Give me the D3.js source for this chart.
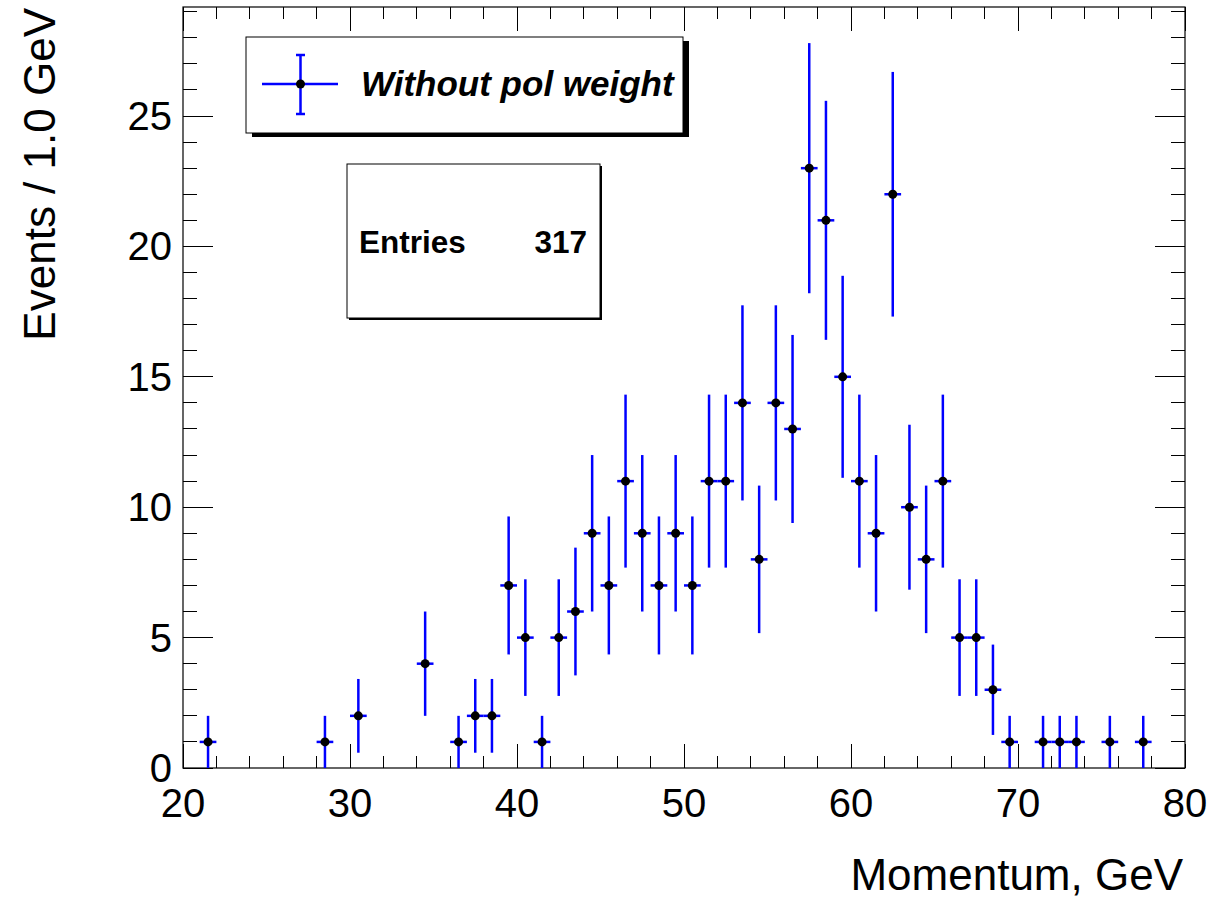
<!DOCTYPE html>
<html><head><meta charset="utf-8">
<script src="https://cdn.jsdelivr.net/npm/d3@7"></script>
<style>body{margin:0;background:#fff}svg{display:block;font-family:"Liberation Sans",Arial,sans-serif}</style>
</head><body>
<script>
const binCenters = [21.5,28.5,30.5,34.5,36.5,37.5,38.5,39.5,40.5,41.5,42.5,43.5,44.5,45.5,46.5,47.5,48.5,49.5,50.5,51.5,52.5,53.5,54.5,55.5,56.5,57.5,58.5,59.5,60.5,61.5,62.5,63.5,64.5,65.5,66.5,67.5,68.5,69.5,71.5,72.5,73.5,75.5,77.5];
const counts = [1,1,2,4,1,2,2,7,5,1,5,6,9,7,11,9,7,9,7,11,11,14,8,14,13,23,21,15,11,9,22,10,8,11,5,5,3,1,1,1,1,1,1];
const binWidth = 1.0;
const xTicks = [20,30,40,50,60,70,80];
const yTicks = [0,5,10,15,20,25];
const xDomain = [20,80];
const yDomain = [0,29.18];
const legendLabel = "Without pol weight";
const statsLabel = "Entries";
const statsValue = "317";
const xTitle = "Momentum, GeV";
const yTitle = "Events / 1.0 GeV";

const W=1227,H=900;
const L=183,R=1185,T=7,B=768;
const svg=d3.select("body").append("svg").attr("width",W).attr("height",H);
const x=d3.scaleLinear().domain(xDomain).range([L,R]);
const y=d3.scaleLinear().domain(yDomain).range([B,T]);

// ticks
const g=svg.append("g").attr("stroke","#000").attr("stroke-width",1).attr("shape-rendering","crispEdges");
const xMinor=d3.range(xDomain[0],xDomain[1]+0.001,2);
xMinor.forEach(v=>{
  const major = v%10===0;
  const len = major?24:12;
  g.append("line").attr("x1",x(v)).attr("x2",x(v)).attr("y1",B).attr("y2",B-len);
  g.append("line").attr("x1",x(v)).attr("x2",x(v)).attr("y1",T).attr("y2",T+len);
});
const yMinor=d3.range(0,29.001,1);
yMinor.forEach(v=>{
  const major = v%5===0;
  const len = major?30:14;
  g.append("line").attr("y1",y(v)).attr("y2",y(v)).attr("x1",L).attr("x2",L+len);
  g.append("line").attr("y1",y(v)).attr("y2",y(v)).attr("x1",R).attr("x2",R-len);
});
svg.append("rect").attr("x",L).attr("y",T).attr("width",R-L).attr("height",B-T)
  .attr("fill","none").attr("stroke","#000").attr("stroke-width",1.2);

// tick labels
svg.append("g").selectAll("text").data(xTicks).join("text")
  .attr("x",d=>x(d)).attr("y",817).attr("text-anchor","middle")
  .attr("font-size",40).text(d=>d);
svg.append("g").selectAll("text").data(yTicks).join("text")
  .attr("x",172).attr("y",d=>y(d)+14).attr("text-anchor","end")
  .attr("font-size",40).text(d=>d);

// titles
svg.append("text").attr("x",1183).attr("y",890).attr("text-anchor","end")
  .attr("font-size",44).text(xTitle);
svg.append("text").attr("transform","translate(55,8) rotate(-90)").attr("text-anchor","end")
  .attr("font-size",44).text(yTitle);

// data
const data=binCenters.map((c,i)=>({c,n:counts[i],e:Math.sqrt(counts[i])}));
const dg=svg.append("g");
dg.selectAll("line.v").data(data).join("line").attr("class","v")
  .attr("x1",d=>x(d.c)).attr("x2",d=>x(d.c))
  .attr("y1",d=>y(Math.max(0,d.n-d.e))).attr("y2",d=>y(d.n+d.e))
  .attr("stroke","#0000ff").attr("stroke-width",2.5);
dg.selectAll("line.h").data(data).join("line").attr("class","h")
  .attr("x1",d=>x(d.c-binWidth/2)).attr("x2",d=>x(d.c+binWidth/2))
  .attr("y1",d=>y(d.n)).attr("y2",d=>y(d.n))
  .attr("stroke","#0000ff").attr("stroke-width",2.5);
dg.selectAll("circle").data(data).join("circle")
  .attr("cx",d=>x(d.c)).attr("cy",d=>y(d.n)).attr("r",4.5).attr("fill","#000");

// legend
const lg=svg.append("g");
lg.append("rect").attr("x",252).attr("y",41).attr("width",437).attr("height",96).attr("fill","#000");
lg.append("rect").attr("x",246).attr("y",37).attr("width",437).attr("height",96).attr("fill","#fff").attr("stroke","#000").attr("stroke-width",1);
lg.append("line").attr("x1",262).attr("x2",338).attr("y1",84).attr("y2",84).attr("stroke","#0000ff").attr("stroke-width",2.5);
lg.append("line").attr("x1",300.5).attr("x2",300.5).attr("y1",55).attr("y2",114).attr("stroke","#0000ff").attr("stroke-width",2.5);
[55,114].forEach(yy=>lg.append("line").attr("x1",296).attr("x2",305).attr("y1",yy).attr("y2",yy).attr("stroke","#0000ff").attr("stroke-width",2.5));
lg.append("circle").attr("cx",300.5).attr("cy",84).attr("r",4.5).attr("fill","#000");
lg.append("text").attr("x",361).attr("y",96).attr("font-size",35).attr("font-weight","bold")
  .attr("font-style","italic").text(legendLabel);

// stats box
const sg=svg.append("g");
sg.append("rect").attr("x",349).attr("y",166).attr("width",253).attr("height",154).attr("fill","#000");
sg.append("rect").attr("x",347).attr("y",164).attr("width",253).attr("height",154).attr("fill","#fff").attr("stroke","#000").attr("stroke-width",1);
sg.append("text").attr("x",359).attr("y",253).attr("font-size",31.5).attr("font-weight","bold").text(statsLabel);
sg.append("text").attr("x",587).attr("y",253).attr("text-anchor","end").attr("font-size",31.5).attr("font-weight","bold").text(statsValue);
</script>
</body></html>
